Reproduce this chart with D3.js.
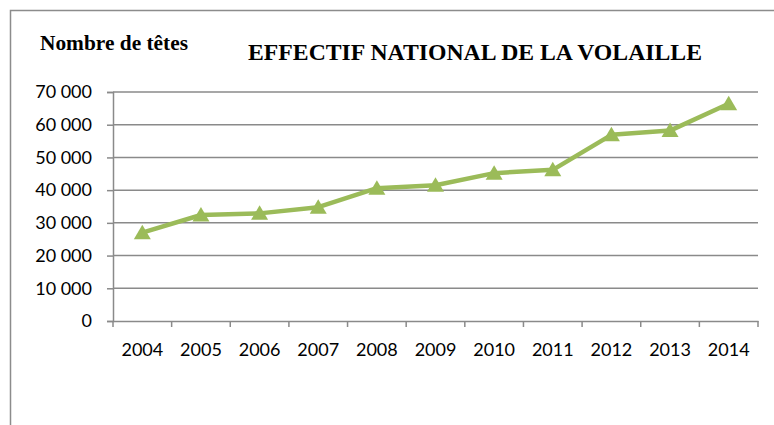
<!DOCTYPE html>
<html><head><meta charset="utf-8">
<script src="https://cdn.jsdelivr.net/npm/d3@7"></script>
<style>body{margin:0;background:#fff}svg{display:block}</style>
</head><body>
<script>
const years = ["2004","2005","2006","2007","2008","2009","2010","2011","2012","2013","2014"];
const values = [27000,32400,32900,34800,40600,41500,45200,46200,56900,58200,66400];
const yTicks = [0,10000,20000,30000,40000,50000,60000,70000];
const title = "EFFECTIF NATIONAL DE LA VOLAILLE";
const yTitle = "Nombre de têtes";

const W = 774, H = 425;
const svg = d3.select("body").append("svg").attr("width", W).attr("height", H);

// outer frame
svg.append("path").attr("d", `M10.5,${H} V10.5 H${W}`).attr("fill","none").attr("stroke","#8c8c8c").attr("stroke-width",1.5);

const x = d3.scaleBand().domain(years).range([113, 758]);
const y = d3.scaleLinear().domain([0, 70000]).range([321, 92]);
const fmt = v => d3.format(",")(v).replace(/,/g, " ");
const labelFont = "Lato, Liberation Sans, Arial, sans-serif";

// gridlines
svg.append("g").selectAll("line").data(yTicks.filter(d => d > 0)).join("line")
  .attr("x1", 113).attr("x2", 758).attr("y1", d => y(d)).attr("y2", d => y(d))
  .attr("stroke", "#8a8a8a").attr("stroke-width", 1.5);

// y axis
const yAxis = svg.append("g").attr("transform", "translate(113,0)")
  .call(d3.axisLeft(y).tickValues(yTicks).tickFormat(fmt).tickSize(6).tickPadding(15));
yAxis.select(".domain").attr("stroke", "#8a8a8a").attr("stroke-width", 1.5);
yAxis.selectAll(".tick line").attr("stroke", "#8a8a8a").attr("stroke-width", 1.5);
yAxis.selectAll("text").attr("font-family", labelFont).attr("font-size", 18).attr("fill", "#000");

// x axis
const xAxis = svg.append("g").attr("transform", "translate(0,321)")
  .call(d3.axisBottom(x).tickSize(0).tickPadding(22).tickSizeOuter(0));
xAxis.select(".domain").attr("stroke", "#8a8a8a").attr("stroke-width", 1.5);
xAxis.selectAll("text").attr("font-family", labelFont).attr("font-size", 18).attr("fill", "#000");
// category boundary ticks
const bounds = years.map(d => x(d)).concat([x.range()[1]]);
svg.append("g").selectAll("line").data(bounds).join("line")
  .attr("x1", d => d).attr("x2", d => d).attr("y1", 321).attr("y2", 327)
  .attr("stroke", "#8a8a8a").attr("stroke-width", 1.5);

// line
const cx = d => x(d) + x.bandwidth() / 2;
svg.append("path").datum(values.map((v, i) => [cx(years[i]), y(v)]))
  .attr("d", d3.line()).attr("fill", "none").attr("stroke", "#9bbb59").attr("stroke-width", 4.5).attr("stroke-linejoin", "round");

// markers
svg.append("g").selectAll("path").data(values).join("path")
  .attr("transform", (v, i) => `translate(${cx(years[i])},${y(v)})`)
  .attr("d", "M0,-8 L8.5,6.5 L-8.5,6.5 Z").attr("fill", "#9bbb59");

// titles
svg.append("text").attr("x", 248).attr("y", 60).text(title)
  .attr("font-family", "Liberation Serif, Times New Roman, serif").attr("font-weight", "bold").attr("font-size", 23)
  .attr("textLength", 454).attr("lengthAdjust", "spacingAndGlyphs");
svg.append("text").attr("x", 40).attr("y", 50).text(yTitle)
  .attr("font-family", "Liberation Serif, Times New Roman, serif").attr("font-weight", "bold").attr("font-size", 20)
  .attr("textLength", 148).attr("lengthAdjust", "spacingAndGlyphs");
</script>
</body></html>
